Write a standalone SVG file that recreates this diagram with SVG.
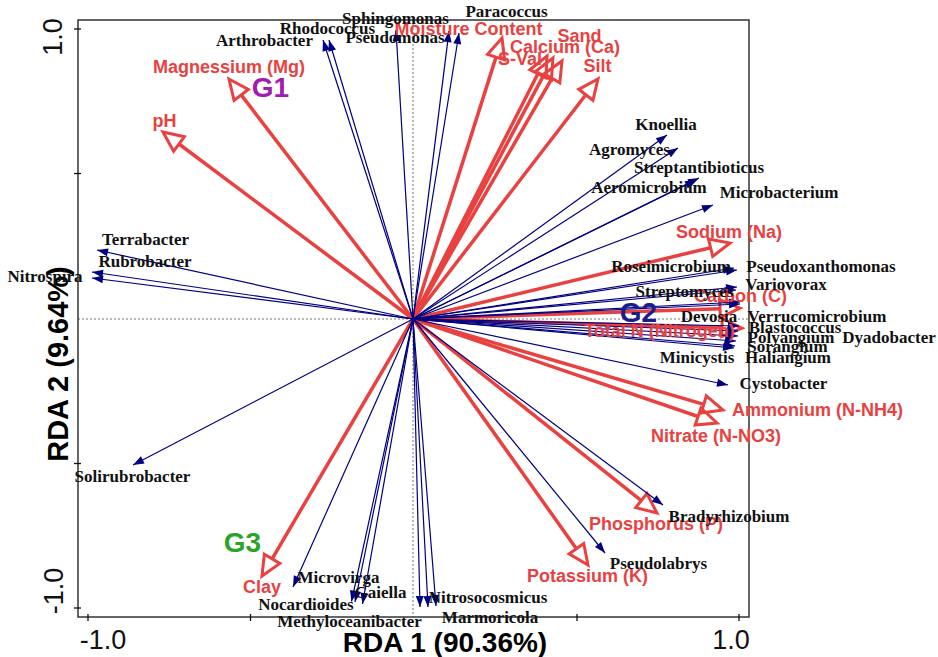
<svg xmlns="http://www.w3.org/2000/svg" width="938" height="657" viewBox="0 0 938 657">
<defs>
<marker id="hs" markerUnits="userSpaceOnUse" markerWidth="12" markerHeight="9" refX="11" refY="4" orient="auto" overflow="visible">
<path d="M0,0 L11,4 L0,8 Z" fill="#000080"/>
</marker>
<marker id="he" markerUnits="userSpaceOnUse" markerWidth="24" markerHeight="20" refX="0" refY="9" orient="auto" overflow="visible">
<path d="M0,0 L20,9 L0,18 Z" fill="none" stroke="#e8413f" stroke-width="3" stroke-linejoin="miter"/>
</marker>
<style>
.sp{font-family:"Liberation Serif","Times New Roman",serif;font-weight:bold;font-size:17px;fill:#111;text-anchor:middle}
.env{font-family:"Liberation Sans",Arial,sans-serif;font-weight:bold;font-size:18px;fill:#e8413f;text-anchor:middle}
.grp{font-family:"Liberation Sans",Arial,sans-serif;font-weight:bold;font-size:28px;text-anchor:middle}
.tk{font-family:"Liberation Sans",Arial,sans-serif;font-size:27px;fill:#111;text-anchor:middle}
.axt{font-family:"Liberation Sans",Arial,sans-serif;font-weight:bold;font-size:28px;fill:#000;text-anchor:middle}
.sl{stroke:#000080;stroke-width:1.2;fill:none;marker-end:url(#hs)}
.el{stroke:#e8413f;stroke-width:3.5;fill:none;marker-end:url(#he)}
.tick{stroke:#111;stroke-width:1.3}
.ref{stroke:#777;stroke-width:1;stroke-dasharray:2 2}
</style>
</defs>
<rect width="938" height="657" fill="#fff"/>
<g id="axes">
<line class="ref" x1="413" y1="20" x2="413" y2="617"/>
<line class="ref" x1="78" y1="319" x2="749" y2="319"/>
<rect x="78" y="20" width="671" height="597" fill="none" stroke="#333" stroke-width="1.5"/>
<line class="tick" x1="74" y1="29" x2="81" y2="29"/>
<line class="tick" x1="74" y1="173.5" x2="81" y2="173.5"/>
<line class="tick" x1="74" y1="463.5" x2="81" y2="463.5"/>
<line class="tick" x1="74" y1="608" x2="81" y2="608"/>
<line class="tick" x1="88" y1="614" x2="88" y2="621"/>
<line class="tick" x1="250.5" y1="614" x2="250.5" y2="621"/>
<line class="tick" x1="577" y1="614" x2="577" y2="621"/>
<line class="tick" x1="739" y1="614" x2="739" y2="621"/>
<text class="tk" x="103" y="649">-1.0</text>
<text class="tk" x="731" y="649">1.0</text>
<text class="tk" transform="translate(62,37) rotate(-90)">1.0</text>
<text class="tk" transform="translate(63,591) rotate(-90)">-1.0</text>
<text class="axt" x="445" y="652">RDA 1 (90.36%)</text>
<text class="axt" style="font-size:29px" transform="translate(68,364) rotate(-90)">RDA 2 (9.64%)</text>
</g>
<g id="connectors">
<g id="env-arrows">
<line class="el" x1="413" y1="319" x2="179" y2="144"/>
<line class="el" x1="413" y1="319" x2="241.2" y2="94.9"/>
<line class="el" x1="413" y1="319" x2="496" y2="57.1"/>
<line class="el" x1="413" y1="319" x2="537.9" y2="73.8"/>
<line class="el" x1="413" y1="319" x2="543.5" y2="75.6"/>
<line class="el" x1="413" y1="319" x2="552" y2="78.3"/>
<line class="el" x1="413" y1="319" x2="585.8" y2="94.8"/>
<line class="el" x1="413" y1="319" x2="710.6" y2="247.7"/>
<line class="el" x1="413" y1="319" x2="720" y2="308.7"/>
<line class="el" x1="413" y1="319" x2="722" y2="327.5"/>
<line class="el" x1="413" y1="319" x2="703.8" y2="404.4"/>
<line class="el" x1="413" y1="319" x2="698.1" y2="416.5"/>
<line class="el" x1="413" y1="319" x2="641.3" y2="500.6"/>
<line class="el" x1="413" y1="319" x2="576.4" y2="548.7"/>
<line class="el" x1="413" y1="319" x2="272.1" y2="558.8"/>
</g>
<g id="species-arrows">
<line class="sl" x1="413" y1="319" x2="323" y2="40"/>
<line class="sl" x1="413" y1="319" x2="329" y2="40"/>
<line class="sl" x1="413" y1="319" x2="396" y2="30"/>
<line class="sl" x1="413" y1="319" x2="449" y2="31"/>
<line class="sl" x1="413" y1="319" x2="459" y2="33"/>
<line class="sl" x1="413" y1="319" x2="667" y2="135"/>
<line class="sl" x1="413" y1="319" x2="678" y2="148"/>
<line class="sl" x1="413" y1="319" x2="699" y2="178"/>
<line class="sl" x1="413" y1="319" x2="696" y2="180"/>
<line class="sl" x1="413" y1="319" x2="713" y2="205"/>
<line class="sl" x1="413" y1="319" x2="734" y2="268"/>
<line class="sl" x1="413" y1="319" x2="737" y2="270"/>
<line class="sl" x1="413" y1="319" x2="737" y2="287"/>
<line class="sl" x1="413" y1="319" x2="736" y2="290"/>
<line class="sl" x1="413" y1="319" x2="740" y2="302"/>
<line class="sl" x1="413" y1="319" x2="740" y2="304"/>
<line class="sl" x1="413" y1="319" x2="739" y2="326"/>
<line class="sl" x1="413" y1="319" x2="738" y2="331"/>
<line class="sl" x1="413" y1="319" x2="738" y2="336"/>
<line class="sl" x1="413" y1="319" x2="736" y2="341"/>
<line class="sl" x1="413" y1="319" x2="735" y2="346"/>
<line class="sl" x1="413" y1="319" x2="734" y2="348"/>
<line class="sl" x1="413" y1="319" x2="728" y2="385"/>
<line class="sl" x1="413" y1="319" x2="663" y2="505"/>
<line class="sl" x1="413" y1="319" x2="605" y2="553"/>
<line class="sl" x1="413" y1="319" x2="420" y2="607"/>
<line class="sl" x1="413" y1="319" x2="428" y2="607"/>
<line class="sl" x1="413" y1="319" x2="436" y2="606"/>
<line class="sl" x1="413" y1="319" x2="362.5" y2="604"/>
<line class="sl" x1="413" y1="319" x2="355" y2="602"/>
<line class="sl" x1="413" y1="319" x2="351.5" y2="601.5"/>
<line class="sl" x1="413" y1="319" x2="293" y2="587"/>
<line class="sl" x1="413" y1="319" x2="133" y2="465"/>
<line class="sl" x1="413" y1="319" x2="97" y2="250"/>
<line class="sl" x1="413" y1="319" x2="92" y2="272"/>
<line class="sl" x1="413" y1="319" x2="92" y2="278"/>
</g>
</g>
<g id="env-labels">
<text id="n-ph" class="env" x="164.5" y="127">pH</text>
<text id="n-mg" class="env" x="229" y="73">Magnessium (Mg)</text>
<text id="n-moist" class="env" x="468.5" y="35">Moisture Content</text>
<text id="n-sval" class="env" x="520" y="65">S-Val</text>
<text id="n-ca" class="env" x="565" y="53">Calcium (Ca)</text>
<text id="n-sand" class="env" x="579.5" y="42">Sand</text>
<text id="n-silt" class="env" x="597.5" y="72">Silt</text>
<text id="n-na" class="env" x="729" y="238">Sodium (Na)</text>
<text id="n-c" class="env" x="740.5" y="302">Carbon (C)</text>
<text id="n-tn" class="env" x="659.5" y="337">Total N (Nitrogen)</text>
<text id="n-nh4" class="env" x="817.5" y="416">Ammonium (N-NH4)</text>
<text id="n-no3" class="env" x="716" y="442">Nitrate (N-NO3)</text>
<text id="n-p" class="env" x="656" y="530">Phosphorus (P)</text>
<text id="n-k" class="env" x="587.5" y="582">Potassium (K)</text>
<text id="n-clay" class="env" x="262" y="593">Clay</text>
</g>
<g id="species-labels">
<text id="s-arthro" class="sp" x="264.5" y="46">Arthrobacter</text>
<text id="s-rhodo" class="sp" x="327.5" y="34">Rhodococcus</text>
<text id="s-sphingo" class="sp" x="395.5" y="24">Sphingomonas</text>
<text id="s-pseudomo" class="sp" x="395" y="43">Pseudomonas</text>
<text id="s-para" class="sp" x="506.5" y="17">Paracoccus</text>
<text id="s-knoel" class="sp" x="666" y="130">Knoellia</text>
<text id="s-agro" class="sp" x="629.5" y="155">Agromyces</text>
<text id="s-strepta" class="sp" x="699" y="173">Streptantibioticus</text>
<text id="s-aeromi" class="sp" x="649" y="193">Aeromicrobium</text>
<text id="s-microb" class="sp" x="779" y="198">Microbacterium</text>
<text id="s-rosei" class="sp" x="671" y="272">Roseimicrobium</text>
<text id="s-pseudox" class="sp" x="821" y="272">Pseudoxanthomonas</text>
<text id="s-vario" class="sp" x="786" y="290">Variovorax</text>
<text id="s-strepto" class="sp" x="684.5" y="297">Streptomyces</text>
<text id="s-devosia" class="sp" x="709" y="322">Devosia</text>
<text id="s-verruco" class="sp" x="817" y="322">Verrucomicrobium</text>
<text id="s-blasto" class="sp" x="795" y="333">Blastococcus</text>
<text id="s-polyang" class="sp" x="791" y="343">Polyangium</text>
<text id="s-dyado" class="sp" x="889" y="343">Dyadobacter</text>
<text id="s-sorang" class="sp" x="787.5" y="352">Sorangium</text>
<text id="s-minicy" class="sp" x="697" y="363">Minicystis</text>
<text id="s-haliang" class="sp" x="788" y="363">Haliangium</text>
<text id="s-cysto" class="sp" x="783.5" y="389">Cystobacter</text>
<text id="s-bradyr" class="sp" x="729" y="522">Bradyrhizobium</text>
<text id="s-pseudol" class="sp" x="658.5" y="569">Pseudolabrys</text>
<text id="s-nitroso" class="sp" x="488" y="603">Nitrosocosmicus</text>
<text id="s-marmor" class="sp" x="490" y="623">Marmoricola</text>
<text id="s-gaiella" class="sp" x="380.5" y="598">Gaiella</text>
<text id="s-nocard" class="sp" x="306" y="610">Nocardioides</text>
<text id="s-methylo" class="sp" x="349.5" y="627">Methyloceanibacter</text>
<text id="s-microv" class="sp" x="338.5" y="583">Microvirga</text>
<text id="s-soliru" class="sp" x="132.5" y="482">Solirubrobacter</text>
<text id="s-terra" class="sp" x="145.5" y="245">Terrabacter</text>
<text id="s-rubro" class="sp" x="145" y="267">Rubrobacter</text>
<text id="s-nitrosp" class="sp" x="45" y="282">Nitrospira</text>
</g>
<g id="groups">
<text id="g1" class="grp" x="270.5" y="97" fill="#a21caf">G1</text>
<text id="g2" class="grp" x="638.5" y="322" fill="#1c1c8c">G2</text>
<text id="g3" class="grp" x="242.5" y="552" fill="#2aa52a">G3</text>
</g>
</svg>
